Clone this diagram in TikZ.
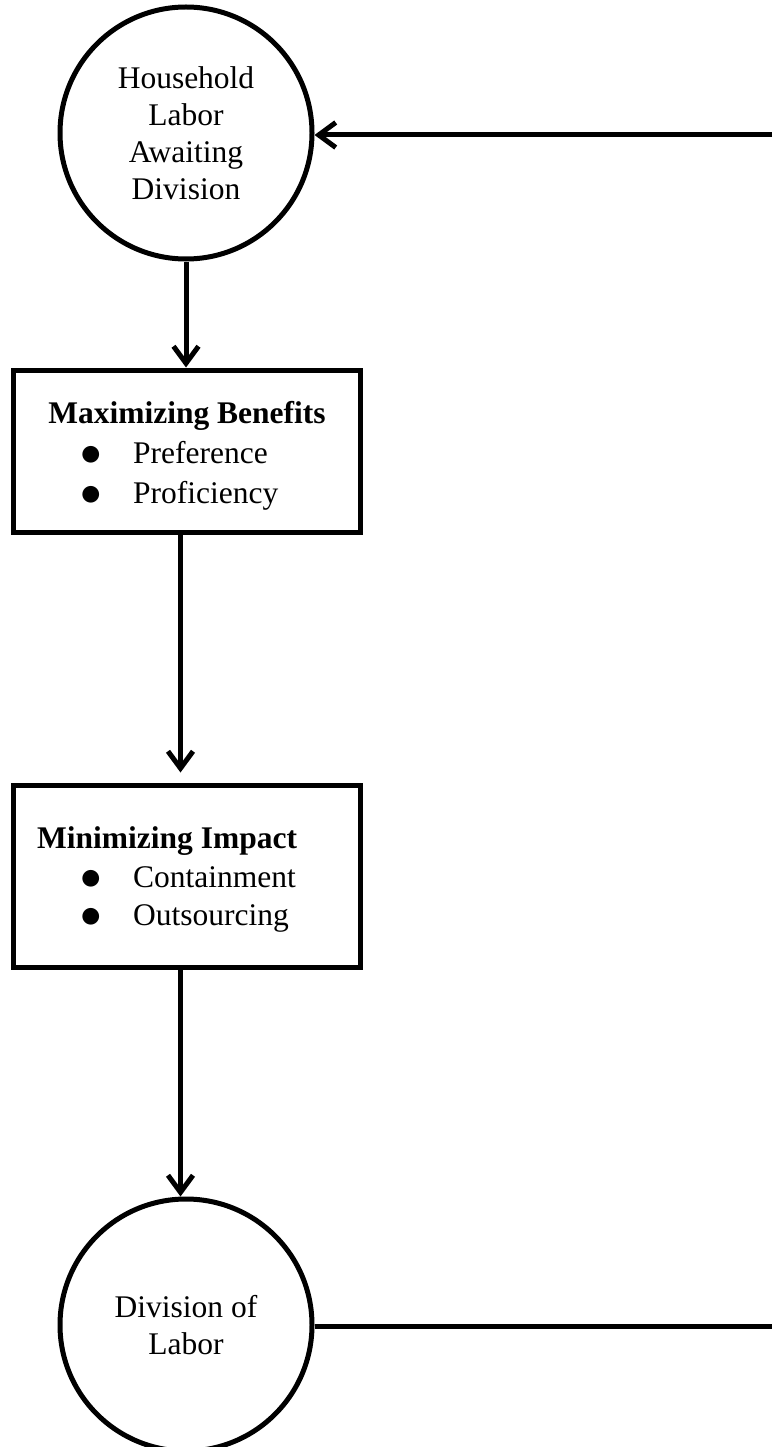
\RequirePackage{fix-cm}
\documentclass[tikz,border=0pt]{standalone}
\usepackage{fontspec}
\setmainfont{Liberation Serif}
\usetikzlibrary{arrows.meta}
\tikzset{
    trait/.style={line width=5pt},
    fleche/.style={trait,-{Straight Barb[length=17pt,width=25pt]}},
    rond/.style={draw,trait,circle,minimum size=252pt,inner sep=0pt,align=center,font=\fontsize{31.5}{37}\selectfont},
    boite/.style={draw,trait,rectangle,inner sep=0pt},
    texte/.style={inner sep=0pt,font=\fontsize{31.5}{37}\selectfont},
    puce/.style={inner sep=0pt,anchor=base,font=\fontsize{43}{43}\selectfont},
  }

\begin{document}
\begin{tikzpicture}[x=1pt,y=-1pt]
				  \useasboundingbox (0,0) rectangle (772,1447);
				  
				  %CERCLES
				  \node[rond] (menage) at (186,133) {Household\\Labor\\Awaiting\\Division};
				  \node[rond] (division) at (186,1325) {Division of\\Labor};
				  \coordinate (retour) at (772,135);
				  \coordinate (sortie) at (772,1326);
				  
				  %boite benefices
				  \node[boite,minimum width=347pt,minimum height=162pt] (benef) at (186.5,451) {};
				  \node[texte,anchor=base] (titreB) at (187,423) {\textbf{Maximizing Benefits}};
				  \node[puce] (puceB1) at (91,465) {$\bullet$};
				  \node[texte,anchor=base west] (pref) at (133,463) {Preference};
				  \node[puce] (puceB2) at (91,505) {$\bullet$};
				  \node[texte,anchor=base west] (prof) at (133,503) {Proficiency};
				  
				  %boite impact
				  \node[boite,minimum width=347pt,minimum height=182pt] (impact) at (186.5,876) {};
				  \node[texte,anchor=base west] (titreI) at (37,848) {\textbf{Minimizing Impact}};
				  \node[puce] (puceI1) at (91,889) {$\bullet$};
				  \node[texte,anchor=base west] (cont) at (133,887) {Containment};
				  \node[puce] (puceI2) at (91,927) {$\bullet$};
				  \node[texte,anchor=base west] (outs) at (133,925) {Outsourcing};
				  
				  %fleches
				  \draw[fleche] (retour) -- (retour -| menage.east);
				  \draw[fleche] (menage.south) -- (menage.south |- benef.north);
				  \draw[fleche] ([xshift=-6pt]benef.south) -- ([xshift=-6pt,yshift=10pt]impact.north);
				  \draw[fleche] ([xshift=-6pt]impact.south) -- ([xshift=-6pt]impact.south |- division.north);
				  \draw[trait] (division.east |- sortie) -- (sortie);
\end{tikzpicture}
\end{document}
